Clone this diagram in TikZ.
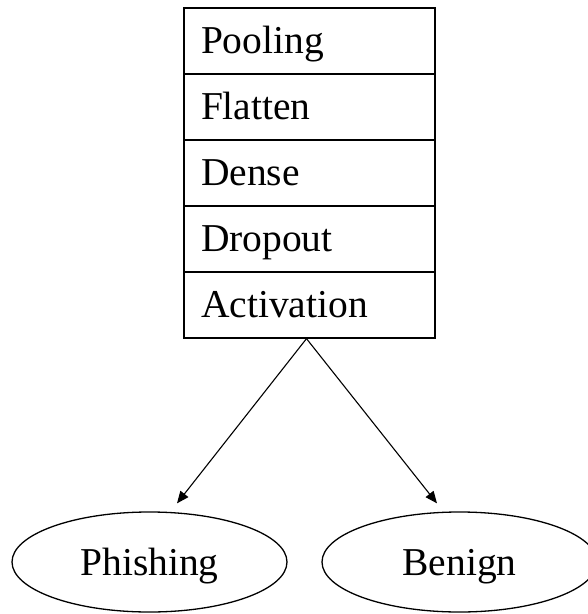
\documentclass[tikz,border=0pt]{standalone}
\usepackage{fontspec}
\setmainfont{Liberation Serif}
\usetikzlibrary{shapes.geometric,arrows.meta}
\begin{document}
\begin{tikzpicture}[x=1pt,y=1pt,
  font=\fontsize{39.5pt}{47pt}\selectfont,
  layer/.style={draw=black, line width=1.3pt, rectangle, minimum height=66pt,
    text width=217pt, inner xsep=17pt, inner ysep=0pt, align=left,
    text height=33pt, text depth=8pt},
  outcome/.style={draw=black, line width=1.3pt, ellipse, minimum width=275pt,
    minimum height=100pt, inner sep=0pt, text height=33pt, text depth=7pt},
  link/.style={draw=black, line width=1.1pt, -{Triangle[length=12pt,width=10pt]}}]
\useasboundingbox (0,0) rectangle (588,-614);
\node[layer] (pool) at (309.5,-41) {Pooling};
\node[layer] (flat) at (309.5,-107) {Flatten};
\node[layer] (dense) at (309.5,-173) {Dense};
\node[layer] (drop) at (309.5,-239) {Dropout};
\node[layer] (act) at (309.5,-305) {Activation};
\node[outcome] (ph) at (149.5,-562) {Phishing};
\node[outcome] (bn) at (459.5,-562) {Benign};
\draw[link] ([xshift=-3pt]act.south) -- ([xshift=27.5pt,yshift=8pt]ph.north);
\draw[link] ([xshift=-3pt]act.south) -- ([xshift=-22.5pt,yshift=8pt]bn.north);
\end{tikzpicture}
\end{document}
